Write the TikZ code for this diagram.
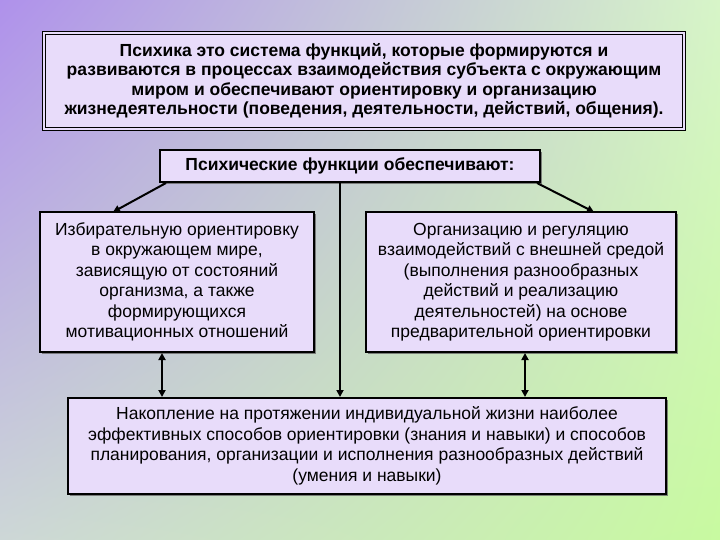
\documentclass[tikz,border=0pt]{standalone}
\usepackage{fontspec}
\setmainfont{Liberation Sans}
\usetikzlibrary{arrows.meta,shadows,shadings}
\definecolor{bxfill}{RGB}{232,220,250}
\definecolor{bgA}{RGB}{175,145,235}
\definecolor{bgB}{RGB}{200,250,160}
\definecolor{bgC}{RGB}{215,245,200}
\definecolor{bgD}{RGB}{205,215,215}
\begin{document}
\begin{tikzpicture}[x=1pt,y=-1pt,
  box/.style={draw=black,line width=2pt,fill=bxfill,align=center,inner sep=1pt,
    font=\fontsize{17.5}{20.5}\selectfont, drop shadow={shadow xshift=2pt,shadow yshift=-2pt,fill=black!60,opacity=0.8}},
  arr/.style={line width=2pt,-{Triangle[length=7pt,width=7pt]}},
  darr/.style={line width=2pt,{Triangle[length=7pt,width=7pt]}-{Triangle[length=7pt,width=7pt]}}]
\shade[upper left=bgA,upper right=bgC,lower left=bgD,lower right=bgB] (0,0) rectangle (720,540);
\useasboundingbox (0,0) rectangle (720,540);
\node[box,minimum width=640,minimum height=96,font=\bfseries\fontsize{17.5}{19.5}\selectfont,double=bxfill,double distance=1.5pt,line width=1pt] (top) at (364,81)
 {Психика это система функций, которые формируются и\\развиваются в процессах взаимодействия субъекта с окружающим\\миром и обеспечивают ориентировку и организацию\\жизнедеятельности (поведения, деятельности, действий, общения).};
\node[box,minimum width=380,minimum height=32,font=\bfseries\fontsize{17.5}{19}\selectfont] (mid) at (350,166) {Психические функции обеспечивают:};
\node[box,minimum width=274,minimum height=140] (L) at (177,282)
 {Избирательную ориентировку\\в окружающем мире,\\зависящую от состояний\\организма, а также\\формирующихся\\мотивационных отношений};
\node[box,minimum width=310,minimum height=140] (R) at (521,282)
 {Организацию и регуляцию\\взаимодействий с внешней средой\\(выполнения разнообразных\\действий и реализацию\\деятельностей) на основе\\предварительной ориентировки};
\node[box,minimum width=598,minimum height=96] (B) at (367,446)
 {Накопление на протяжении индивидуальной жизни наиболее\\эффективных способов ориентировки (знания и навыки) и способов\\планирования, организации и исполнения разнообразных действий\\(умения и навыки)};
\coordinate (ml) at (166,183); \coordinate (lt) at (113,212);
\coordinate (mr) at (537,183); \coordinate (rt) at (594,212);
\draw[arr] (ml) -- (lt);
\draw[arr] (mr) -- (rt);
\draw[arr] (mid.south -| 340,0) -- (B.north -| 340,0);
\draw[darr] (L.south -| 162,0) -- (B.north -| 162,0);
\draw[darr] (R.south -| 525,0) -- (B.north -| 525,0);
\end{tikzpicture}
\end{document}
